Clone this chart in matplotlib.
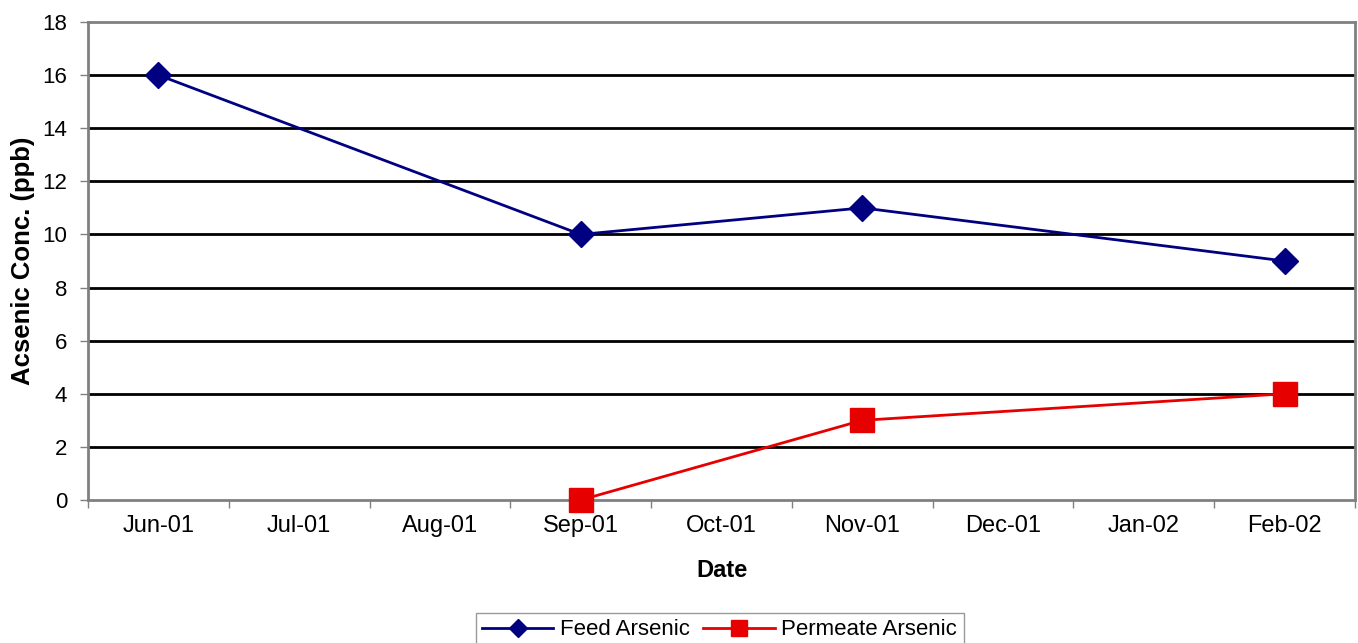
import matplotlib.pyplot as plt
import numpy as np

plt.rcParams['font.family'] = ['Liberation Sans', 'DejaVu Sans']

# monthly categories along the x axis
months = ["Jun-01", "Jul-01", "Aug-01", "Sep-01", "Oct-01",
          "Nov-01", "Dec-01", "Jan-02", "Feb-02"]

# sampled arsenic concentrations (ppb)
feed_months = ["Jun-01", "Sep-01", "Nov-01", "Feb-02"]
feed_arsenic = [16, 10, 11, 9]
permeate_months = ["Sep-01", "Nov-01", "Feb-02"]
permeate_arsenic = [0, 3, 4]

pos = {m: i for i, m in enumerate(months)}
feed_x = [pos[m] for m in feed_months]
perm_x = [pos[m] for m in permeate_months]

fig = plt.figure(figsize=(13.58, 6.43), dpi=100)
ax = fig.add_axes([0.0648, 0.2224, 0.933, 0.7434])

ax.plot(feed_x, feed_arsenic, color="#000080", lw=2, marker="D",
        markersize=13, markerfacecolor="#000080", markeredgecolor="#000080",
        label="Feed Arsenic", clip_on=False, zorder=4)
ax.plot(perm_x, permeate_arsenic, color="#E60000", lw=2, marker="s",
        markersize=17, markerfacecolor="#E60000", markeredgecolor="#E60000",
        label="Permeate Arsenic", clip_on=False, zorder=4)

ax.set_xlim(-0.5, len(months) - 0.5)
ax.set_ylim(0, 18)
ax.set_yticks(np.arange(0, 19, 2))
ax.set_xticks(range(len(months)))
ax.set_xticklabels(months)
ax.set_xticks(np.arange(-0.5, len(months), 1), minor=True)
ax.tick_params(axis="x", which="major", length=0, pad=11, labelsize=17)
ax.tick_params(axis="x", which="minor", length=6, width=1, color="#808080",
               direction="out")
ax.tick_params(axis="y", length=6, width=1, color="#808080", labelsize=16,
               pad=9)

for y in range(2, 18, 2):
    ax.axhline(y, color="black", lw=2, zorder=1)

for s in ax.spines.values():
    s.set_color("#808080")
    s.set_linewidth(2)

ax.set_xlabel("Date", fontsize=17, fontweight="bold", labelpad=16)
ax.set_ylabel("Acsenic Conc. (ppb)", fontsize=18.5, fontweight="bold",
              labelpad=5)

leg = fig.legend(loc="upper center", bbox_to_anchor=(0.53, 0.047), ncol=2,
                 frameon=True, fancybox=False, fontsize=16, markerscale=0.7,
                 handlelength=3.2, columnspacing=0.6, handletextpad=0.3,
                 borderpad=0.3, borderaxespad=0)
leg.get_frame().set_edgecolor("#808080")
leg.get_frame().set_linewidth(1)

fig.savefig("out.png", dpi=100)
